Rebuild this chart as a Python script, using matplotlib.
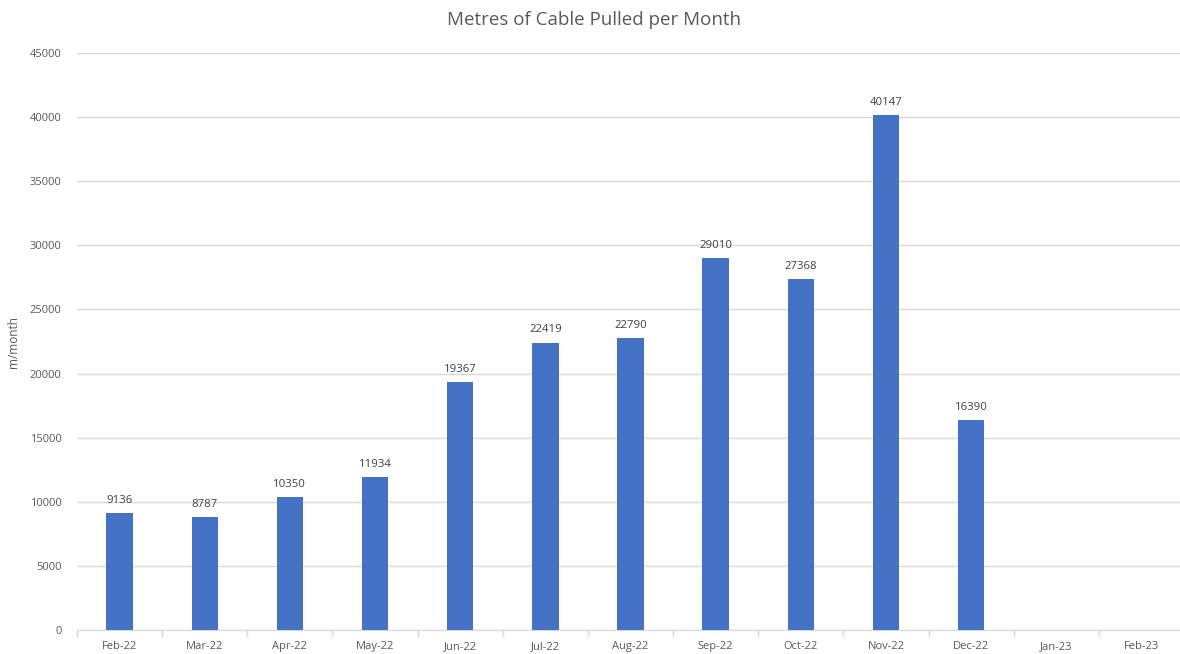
import matplotlib.pyplot as plt

# Data ----------------------------------------------------------------------------------------------
months = ["Feb-22", "Mar-22", "Apr-22", "May-22", "Jun-22", "Jul-22", "Aug-22",
          "Sep-22", "Oct-22", "Nov-22", "Dec-22", "Jan-23", "Feb-23"]
metres = [9136, 8787, 10350, 11934, 19367, 22419, 22790,
          29010, 27368, 40147, 16390, None, None]
yticks = list(range(0, 45001, 5000))

textGrey = "#595959"
barBlue  = "#4472C4"
gridGrey = "#D9D9D9"
plt.rcParams['font.family'] = ['Open Sans', 'DejaVu Sans']

# Plot ----------------------------------------------------------------------------------------------
fig = plt.figure(figsize=(11.8, 6.54), dpi=100)
ax = fig.add_axes([77/1180, 24/654, 1107/1180, 577/654])

xs = [i for i, v in enumerate(metres) if v is not None]
vals = [v for v in metres if v is not None]
ax.bar(xs, vals, width=0.31, color=barBlue, zorder=3)
for x, v in zip(xs, vals):
    ax.text(x, v + 550, str(v), ha="center", va="bottom", fontsize=8.2, color="#404040")

ax.set_xlim(-0.5, len(months) - 0.5)
ax.set_ylim(0, 45000)
ax.set_xticks(range(len(months)))
ax.set_xticklabels(months)
ax.set_xticks([i - 0.5 for i in range(len(months) + 1)], minor=True)
ax.set_yticks(yticks)
ax.tick_params(axis="x", which="major", length=0, pad=8, labelsize=8, labelcolor=textGrey)
ax.tick_params(axis="x", which="minor", length=5, color=gridGrey, width=1)
ax.tick_params(axis="y", length=0, pad=11, labelsize=8, labelcolor=textGrey)
ax.grid(axis="y", color=gridGrey, lw=1, zorder=0)
for s in ["top", "right", "left"]:
    ax.spines[s].set_visible(False)
ax.spines["bottom"].set_color(gridGrey)

ax.set_ylabel("m/month", fontsize=8.5, color=textGrey, labelpad=7)
fig.text(594/1180, 1 - 20/654, "Metres of Cable Pulled per Month", ha="center", va="center",
         fontsize=13.5, color=textGrey)

fig.savefig("out.png", dpi=100)
